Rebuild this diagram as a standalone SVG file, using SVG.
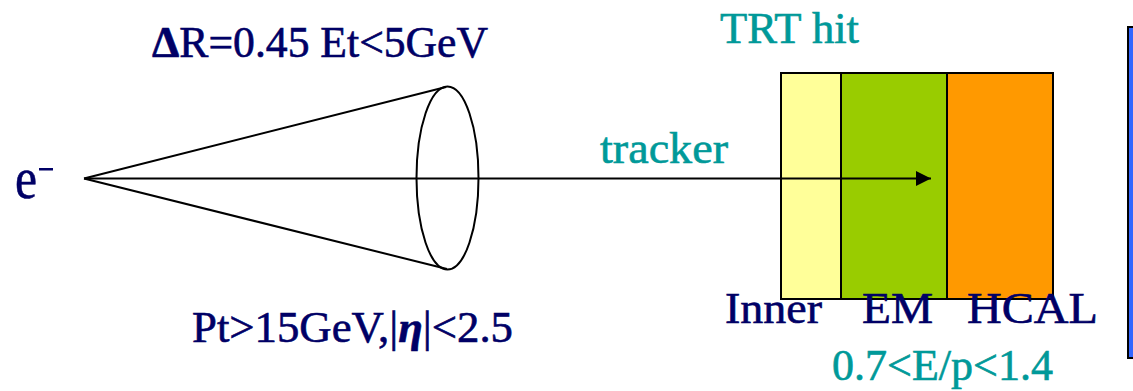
<svg xmlns="http://www.w3.org/2000/svg" width="1133" height="391" viewBox="0 0 1133 391" font-family="Liberation Serif, DejaVu Serif, Noto Serif, serif">
<style>
.navy{fill:#000066;stroke:#000066;stroke-width:0.6}
.teal{fill:#009999;stroke:#009999;stroke-width:0.6}
.ln{stroke:#000;stroke-width:2;fill:none}
.box{stroke:#000;stroke-width:2}
</style>
<defs>
<marker id="ah" viewBox="0 0 15 15" refX="15" refY="7.5" markerWidth="15" markerHeight="15" markerUnits="userSpaceOnUse" orient="auto">
<path d="M0,0 L15,7.5 L0,15 Z" fill="#000"/>
</marker>
</defs>
<rect width="1133" height="391" fill="#fff"/>
<g id="detector">
<g id="inner"><rect x="781" y="73" width="60" height="226" fill="#ffff99" class="box"/></g>
<g id="em"><rect x="841" y="73" width="106" height="226" fill="#99cc00" class="box"/></g>
<g id="hcal"><rect x="947" y="73" width="106" height="226" fill="#ff9900" class="box"/></g>
</g>
<g id="muon-bar"><rect x="1128" y="27" width="20" height="331" fill="#3366ff" class="box"/></g>
<g id="cone">
<path class="ln" d="M84,178.5 L446,87 M84,178.5 L447,269"/>
<ellipse cx="447.5" cy="178" rx="31" ry="91.5" class="ln"/>
</g>
<g id="connectors">
<line x1="84" y1="178.5" x2="931" y2="178.5" stroke="#000" stroke-width="2" marker-end="url(#ah)"/>
</g>
<g id="labels" font-size="44">
<text x="15" y="198" class="navy" font-size="60" textLength="22" lengthAdjust="spacingAndGlyphs">e</text>
<rect x="39" y="168" width="14" height="2.5" fill="#000066"/>
<text x="152" y="57" class="navy" textLength="336" lengthAdjust="spacingAndGlyphs"><tspan font-weight="bold">Δ</tspan>R=0.45 Et&lt;5GeV</text>
<text x="192" y="342" class="navy" textLength="321" lengthAdjust="spacingAndGlyphs">Pt&gt;15GeV,|<tspan font-weight="bold" font-style="italic">η</tspan>|&lt;2.5</text>
<text x="720" y="43" class="teal" textLength="139" lengthAdjust="spacingAndGlyphs">TRT hit</text>
<text x="600" y="163" class="teal" textLength="128" lengthAdjust="spacingAndGlyphs">tracker</text>
<text x="725" y="323" class="navy" textLength="97" lengthAdjust="spacingAndGlyphs">Inner</text>
<text x="862" y="323" class="navy" textLength="71" lengthAdjust="spacingAndGlyphs">EM</text>
<text x="967" y="323" class="navy" textLength="131" lengthAdjust="spacingAndGlyphs">HCAL</text>
<text x="832" y="380" class="teal" textLength="221" lengthAdjust="spacingAndGlyphs">0.7&lt;E/p&lt;1.4</text>
</g>
</svg>
